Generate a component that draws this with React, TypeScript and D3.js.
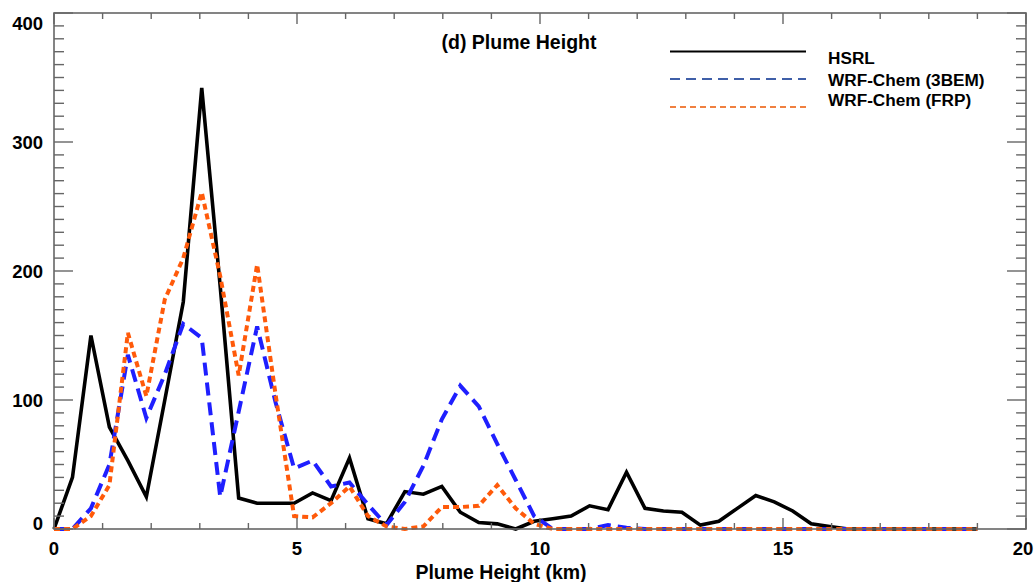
import * as d3 from "d3";

// Plume height distribution (counts per 0.38 km bin)
const heightKm = [
  0, 0.38, 0.76, 1.14, 1.52, 1.9, 2.28, 2.66, 3.04, 3.42, 3.8, 4.18, 4.56, 4.94, 5.32, 5.7, 6.08,
  6.46, 6.84, 7.22, 7.6, 7.98, 8.36, 8.74, 9.12, 9.5, 9.88, 10.26, 10.64, 11.02, 11.4, 11.78,
  12.16, 12.54, 12.92, 13.3, 13.68, 14.06, 14.44, 14.82, 15.2, 15.58, 15.96, 16.34, 16.72, 17.1,
  17.48, 17.86, 18.24, 18.62, 19.0,
];

const hsrl = [
  0, 40, 150, 79, 53, 25, 100, 176, 342, 188, 24, 20, 20, 20, 28, 22, 55, 8, 4, 29, 27, 33, 13, 5,
  4, 0, 6, 8, 10, 18, 15, 44, 16, 14, 13, 3, 6, 16, 26, 21, 14, 4, 2, 0, 0, 0, 0, 0, 0, 0, 0,
];

const wrf3bem = [
  0, 0, 16, 50, 135, 86, 120, 159, 148, 25, 91, 157, 98, 47, 53, 33, 36, 19, 3, 21, 49, 85, 111,
  95, 66, 38, 10, 0, 0, 0, 3, 1, 0, 0, 0, 0, 0, 0, 0, 0, 0, 0, 0, 0, 0, 0, 0, 0, 0, 0, 0,
];

const wrfFrp = [
  0, 0, 10, 34, 152, 103, 178, 210, 261, 196, 119, 205, 104, 10, 9, 20, 33, 10, 2, 0, 2, 17, 17,
  18, 34, 16, 4, 0, 0, 0, 0, 0, 0, 0, 0, 0, 0, 0, 0, 0, 0, 0, 0, 0, 0, 0, 0, 0, 0, 0, 0,
];

const xTickLabels = [0, 5, 10, 15, 20];
const yTickLabels = [0, 100, 200, 300, 400];

const W = 1035;
const H = 582;
const left = 54;
const right = 1026;
const top = 13;
const bottom = 529;
const axisColor = "#666";
const font = "'Liberation Sans', Arial, sans-serif";

const series = [
  { name: "HSRL", values: hsrl, color: "#000", width: 3.6, dash: "none", legendColor: "#000", legendDash: "none" },
  { name: "WRF-Chem (3BEM)", values: wrf3bem, color: "#1f1fff", width: 4, dash: "13 7", legendColor: "#3f5fa8", legendDash: "10 6" },
  { name: "WRF-Chem (FRP)", values: wrfFrp, color: "#ff5a0a", width: 4, dash: "6 4", legendColor: "#f08040", legendDash: "6 4" },
];

export default function App() {
  const x = d3.scaleLinear().domain([0, 20]).range([left, right]);
  const y = d3.scaleLinear().domain([0, 400]).range([bottom, top]);

  const line = d3
    .line<number>()
    .x((_, i) => x(heightKm[i]))
    .y((d) => y(d));

  const yMinor = d3.range(0, 401, 10);
  const xMinor = d3.range(0, 21, 1);

  return (
    <svg
      width={W}
      height={H}
      style={{ position: "absolute", left: 0, top: 0, background: "#fff" }}
      fontFamily={font}
      fontWeight={700}
    >
      {/* Series */}
      {series.map((s) => (
        <path
          key={s.name}
          d={line(s.values) ?? ""}
          fill="none"
          stroke={s.color}
          strokeWidth={s.width}
          strokeDasharray={s.dash}
          strokeLinejoin="miter"
        />
      ))}

      {/* Frame */}
      <rect
        x={left}
        y={top}
        width={right - left}
        height={bottom - top}
        fill="none"
        stroke={axisColor}
        strokeWidth={1.6}
      />

      {/* Y ticks, both sides */}
      {yMinor.map((t) => {
        const len = t % 100 === 0 ? 19 : 10;
        return (
          <g key={t} stroke={axisColor} strokeWidth={1.4}>
            <line x1={left} x2={left + len} y1={y(t)} y2={y(t)} />
            <line x1={right} x2={right - len} y1={y(t)} y2={y(t)} />
          </g>
        );
      })}

      {/* X ticks, top and bottom */}
      {xMinor.map((t) => {
        const len = t % 5 === 0 ? 11 : 6;
        return (
          <g key={t} stroke={axisColor} strokeWidth={1.4}>
            <line x1={x(t)} x2={x(t)} y1={bottom} y2={bottom - len} />
            <line x1={x(t)} x2={x(t)} y1={top} y2={top + len} />
          </g>
        );
      })}

      {/* Y tick labels */}
      {yTickLabels.map((t) => (
        <text
          key={t}
          x={43}
          y={Math.min(Math.max(y(t), top + 10), bottom - 6)}
          fontSize={18.5}
          textAnchor="end"
          dominantBaseline="central"
          fill="#000"
        >
          {t}
        </text>
      ))}

      {/* X tick labels */}
      {xTickLabels.map((t) => (
        <text
          key={t}
          x={Math.min(x(t), right - 3)}
          y={548}
          fontSize={18.5}
          textAnchor="middle"
          dominantBaseline="central"
          fill="#000"
        >
          {t}
        </text>
      ))}

      {/* Axis title */}
      <text x={501} y={572} fontSize={19.5} textAnchor="middle" dominantBaseline="central" fill="#000">
        Plume Height (km)
      </text>

      {/* Panel title */}
      <text x={519} y={42} fontSize={19.5} textAnchor="middle" dominantBaseline="central" fill="#000">
        (d) Plume Height
      </text>

      {/* Legend */}
      {series.map((s, i) => {
        const lineY = [51.5, 79, 107][i];
        const textY = [58, 79.5, 100][i];
        return (
          <g key={s.name}>
            <line
              x1={670}
              x2={806}
              y1={lineY}
              y2={lineY}
              stroke={s.legendColor}
              strokeWidth={1.8}
              strokeDasharray={s.legendDash}
            />
            <text x={828} y={textY} fontSize={17.2} dominantBaseline="central" fill="#000">
              {s.name}
            </text>
          </g>
        );
      })}
    </svg>
  );
}
